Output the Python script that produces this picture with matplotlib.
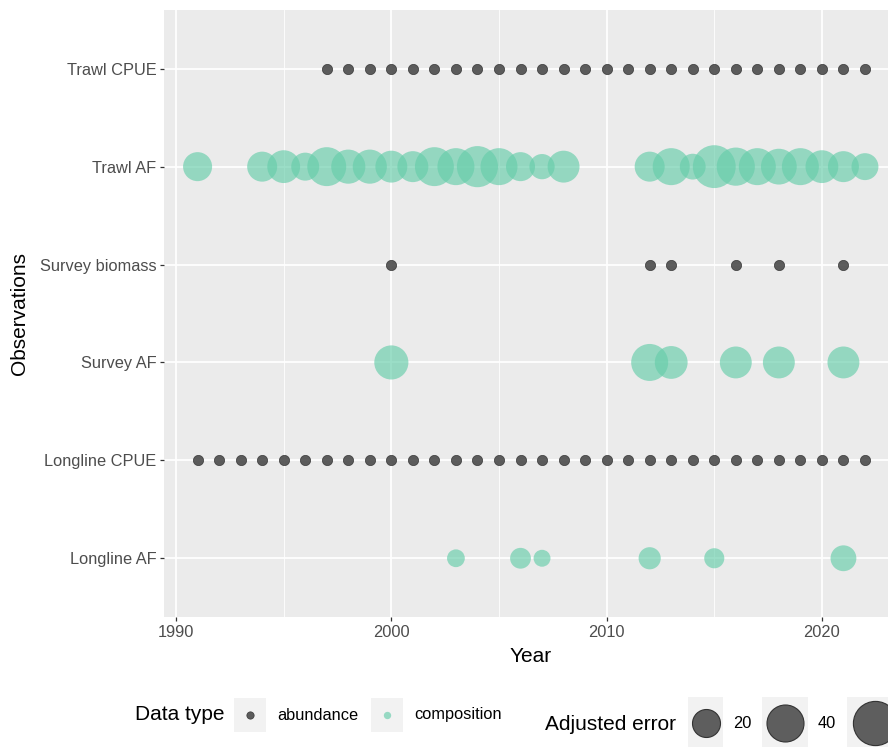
import matplotlib
matplotlib.use("Agg")
import matplotlib.pyplot as plt
import numpy as np
from matplotlib.patches import Rectangle

plt.rcParams["font.family"] = ["Liberation Sans", "DejaVu Sans"]

# ---- data -------------------------------------------------------------
categories = ["Longline AF", "Longline CPUE", "Survey AF",
              "Survey biomass", "Trawl AF", "Trawl CPUE"]

trawl_cpue_years = [1997, 1998, 1999, 2000, 2001, 2002, 2003, 2004, 2005,
                    2006, 2007, 2008, 2009, 2010, 2011, 2012, 2013, 2014,
                    2015, 2016, 2017, 2018, 2019, 2020, 2021, 2022]

trawl_af_years = [1991, 1994, 1995, 1996, 1997, 1998, 1999, 2000, 2001,
                  2002, 2003, 2004, 2005, 2006, 2007, 2008,
                  2012, 2013, 2014, 2015, 2016, 2017, 2018, 2019, 2020,
                  2021, 2022]
trawl_af_error = [22, 24, 30, 20, 45, 33, 33, 28, 26,
                  45, 40, 51, 40, 22, 15, 28,
                  24, 40, 16, 56, 43, 40, 37, 40, 30,
                  26, 18]

survey_biomass_years = [2000, 2012, 2013, 2016, 2018, 2021]

survey_af_years = [2000, 2012, 2013, 2016, 2018, 2021]
survey_af_error = [33, 40, 30, 28, 28, 28]

longline_cpue_years = [1991, 1992, 1993, 1994, 1995, 1996, 1997, 1998, 1999,
                       2000, 2001, 2002, 2003, 2004, 2005, 2006, 2007, 2008,
                       2009, 2010, 2011, 2012, 2013, 2014, 2015, 2016, 2017,
                       2018, 2019, 2020, 2021, 2022]

longline_af_years = [2003, 2006, 2007, 2012, 2015, 2021]
longline_af_error = [4, 8, 3, 10, 7, 16]

size_breaks = [20, 40, 60]

# ---- styling ----------------------------------------------------------
W, H, DPI = 888, 747, 100
COMP = "#66CDAA"
ABUND = "#474747"
PANEL = "#EBEBEB"
TXT = "#4D4D4D"
TICK_FS = 11.8
TITLE_FS = 15


def area_scale(v):
    """Marker area (pt^2) from adjusted error, area linear in value."""
    d_px = np.sqrt(199.0 + 29.25 * np.asarray(v, dtype=float))
    return (d_px * 72.0 / DPI) ** 2


def px_box(l, t, r, b):
    return [l / W, 1 - b / H, (r - l) / W, (b - t) / H]


fig = plt.figure(figsize=(W / DPI, H / DPI), dpi=DPI)
ax = fig.add_axes(px_box(164, 10, 888, 617))
ax.set_facecolor(PANEL)
for s in ax.spines.values():
    s.set_visible(False)

ax.set_xlim(1989.44, 2023.07)
ax.set_ylim(-0.6, len(categories) - 0.4)

# grid
for x in [1995, 2005, 2015]:
    ax.axvline(x, color="white", lw=0.6, zorder=0)
for x in [1990, 2000, 2010, 2020]:
    ax.axvline(x, color="white", lw=1.25, zorder=0)
for i in range(len(categories)):
    ax.axhline(i, color="white", lw=1.25, zorder=0)

ypos = {c: i for i, c in enumerate(categories)}


def abundance(years, cat):
    ax.scatter(years, [ypos[cat]] * len(years), s=55, color=ABUND,
               edgecolors="#2E2E2E", linewidths=0.5, alpha=0.88, zorder=3)


def composition(years, errs, cat):
    ax.scatter(years, [ypos[cat]] * len(years), s=area_scale(errs),
               color=COMP, alpha=0.65, linewidths=0, zorder=3)


composition(longline_af_years, longline_af_error, "Longline AF")
abundance(longline_cpue_years, "Longline CPUE")
composition(survey_af_years, survey_af_error, "Survey AF")
abundance(survey_biomass_years, "Survey biomass")
composition(trawl_af_years, trawl_af_error, "Trawl AF")
abundance(trawl_cpue_years, "Trawl CPUE")

ax.set_xticks([1990, 2000, 2010, 2020])
ax.set_yticks(range(len(categories)))
ax.set_yticklabels(categories)
ax.tick_params(axis="both", colors="#333333", length=3, width=0.9,
               labelsize=TICK_FS, labelcolor=TXT, pad=2.5)

ax.set_xlabel("Year", fontsize=TITLE_FS, color="black")
ax.set_ylabel("Observations", fontsize=TITLE_FS, color="black")
ax.xaxis.set_label_coords((531 - 164) / 724, (617 - 656) / 607)
ax.xaxis.label.set_va("center")
ax.yaxis.set_label_coords((20 - 164) / 724, 0.5)
ax.yaxis.label.set_va("center")

# ---- legend (pixel coordinates along the bottom strip) -----------------
lax = fig.add_axes([0, 0, 1, 1], zorder=5)
lax.set_xlim(0, W)
lax.set_ylim(H, 0)
lax.axis("off")
lax.patch.set_alpha(0)

lax.text(135, 715, "Data type", fontsize=TITLE_FS, va="center", ha="left")
lax.add_patch(Rectangle((234, 698), 32, 34, color="#F2F2F2", lw=0))
lax.scatter([250], [715], s=28, color=ABUND, edgecolors="#2E2E2E",
            linewidths=0.5, alpha=0.88)
lax.text(277, 715, "abundance", fontsize=TICK_FS, color="black", va="center")
lax.add_patch(Rectangle((371, 698), 32, 34, color="#F2F2F2", lw=0))
lax.scatter([387], [715], s=28, color=COMP, alpha=0.65, linewidths=0)
lax.text(414, 715, "composition", fontsize=TICK_FS, color="black", va="center")

lax.text(545, 724, "Adjusted error", fontsize=TITLE_FS, va="center", ha="left")
key_x = [688, 762, 847]
key_w = [35, 46, 56]
for kx, kw, b in zip(key_x, key_w, size_breaks):
    lax.add_patch(Rectangle((kx, 697), kw, 52, color="#F2F2F2", lw=0,
                            clip_on=False))
    lax.scatter([kx + kw / 2], [723], s=area_scale(b), color="#5E5E5E",
                edgecolors="#333333", linewidths=0.8, zorder=6)
    if b != size_breaks[-1]:
        lax.text(kx + kw + 10, 723, str(b), fontsize=TICK_FS, va="center")

fig.savefig("out.png", dpi=DPI)
